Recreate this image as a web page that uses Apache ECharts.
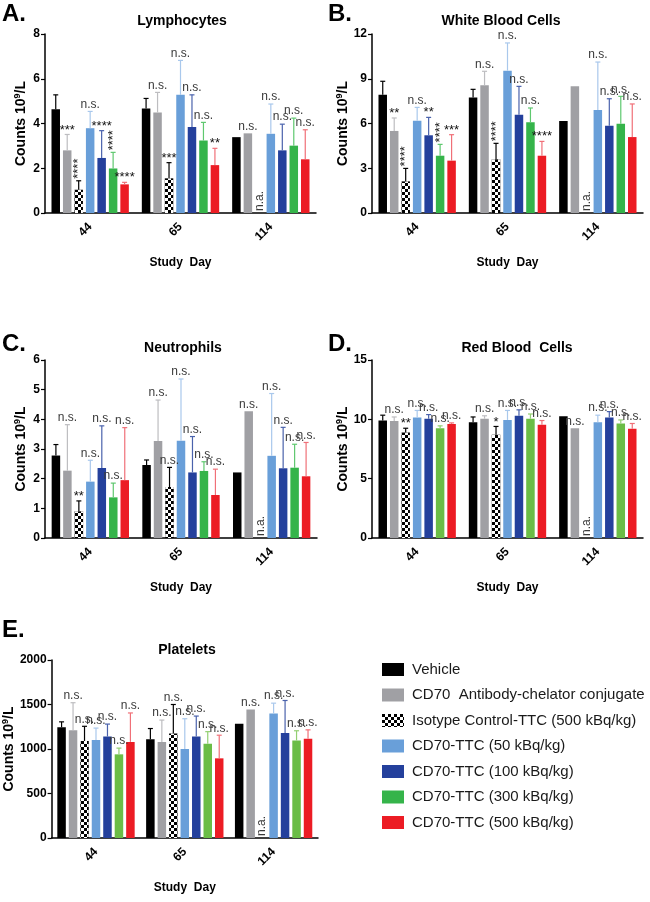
<!DOCTYPE html>
<html>
<head>
<meta charset="utf-8">
<script src="https://cdn.jsdelivr.net/npm/echarts@6/dist/echarts.min.js"></script>
<style>html,body{margin:0;padding:0;background:#fff}#c{width:650px;height:902px}</style>
</head>
<body>
<div id="c"></div>
<script>
// ---------- data ----------
const categories = ['44', '65', '114'];
const seriesNames = ['Vehicle', 'CD70  Antibody-chelator conjugate', 'Isotype Control-TTC (500 kBq/kg)',
  'CD70-TTC (50 kBq/kg)', 'CD70-TTC (100 kBq/kg)', 'CD70-TTC (300 kBq/kg)', 'CD70-TTC (500 kBq/kg)'];

// rows = series, columns = study day 44, 65, 114 ; null = not available
const lymphMean = [[4.64,4.67,3.39],[2.80,4.49,3.56],[1.04,1.55,null],[3.79,5.28,3.54],[2.46,3.84,2.80],[1.99,3.24,3.01],[1.28,2.14,2.40]];
const lymphUpper = [[5.28,5.12,null],[3.51,5.39,null],[1.44,2.25,null],[4.54,6.82,4.87],[3.68,5.28,3.97],[2.71,4.05,4.24],[1.37,2.89,3.72]];
const lymphSig = [['','',''],['***','n.s.','n.s.'],['****','***','n.a.'],['n.s.','n.s.','n.s.'],['****','n.s.','n.s.'],['****','n.s.','n.s.'],['****','**','n.s.']];
const lymphVertical = [[2,0],[5,0]];

const wbcMean = [[7.93,7.75,6.17],[5.50,8.56,8.49],[2.12,3.60,null],[6.19,9.54,6.90],[5.21,6.59,5.85],[3.84,6.08,5.99],[3.51,3.84,5.09]];
const wbcUpper = [[8.83,8.29,null],[6.37,9.50,null],[2.99,4.67,null],[7.08,11.40,10.12],[6.41,8.49,7.66],[4.60,7.04,7.82],[5.25,4.80,7.31]];
const wbcSig = [['','',''],['**','n.s.',''],['****','****','n.a.'],['n.s.','n.s.','n.s.'],['**','n.s.','n.s.'],['****','n.s.','n.s.'],['***','****','n.s.']];
const wbcVertical = [[2,0],[5,0],[2,1]];

const neutMean = [[2.78,2.46,2.21],[2.27,3.27,4.27],[0.90,1.72,null],[1.90,3.28,2.77],[2.36,2.21,2.35],[1.37,2.26,2.37],[1.95,1.45,2.08]];
const neutUpper = [[3.15,2.63,null],[3.82,4.65,null],[1.25,2.38,null],[2.62,5.36,4.87],[3.78,3.42,3.73],[1.85,2.57,3.16],[3.72,2.32,3.22]];
const neutSig = [['','',''],['n.s.','n.s.','n.s.'],['**','n.s.','n.a.'],['n.s.','n.s.','n.s.'],['n.s.','n.s.','n.s.'],['n.s.','n.s.','n.s.'],['n.s.','n.s.','n.s.']];
const neutVertical = [];

const rbcMean = [[9.90,9.75,10.25],[9.85,10.05,9.25],[8.90,8.70,null],[10.15,9.95,9.75],[10.05,10.30,10.15],[9.25,10.05,9.65],[9.60,9.55,9.20]];
const rbcUpper = [[10.35,10.20,null],[10.20,10.30,null],[9.25,9.40,null],[10.75,10.75,10.35],[10.40,10.80,10.65],[9.45,10.45,9.95],[9.70,9.90,9.65]];
const rbcSig = [['','',''],['n.s.','n.s.','n.s.'],['**','*','n.a.'],['n.s.','n.s.','n.s.'],['n.s.','n.s.','n.s.'],['n.s.','n.s.','n.s.'],['n.s.','n.s.','n.s.']];
const rbcVertical = [];

const pltMean = [[1245,1110,1285],[1210,1080,1445],[1090,1175,null],[1100,1000,1400],[1140,1140,1180],[940,1060,1095],[1080,895,1115]];
const pltUpper = [[1305,1230,null],[1520,1325,null],[1255,1500,null],[1235,1340,1515],[1280,1370,1545],[1010,1195,1205],[1405,1155,1215]];
const pltSig = [['','',''],['n.s.','n.s.','n.s.'],['n.s.','n.s.','n.a.'],['n.s.','n.s.','n.s.'],['n.s.','n.s.','n.s.'],['n.s.','n.s.','n.s.'],['n.s.','n.s.','n.s.']];
const pltVertical = [];

// ---------- styling ----------
const FONT = "'Liberation Sans', Arial, Helvetica, sans-serif";
const greenDark = '#35b44a', greenLight = '#6bbd46';
function barColors(green){ return ['#000000','#a0a0a4','#000000','#699fd9','#24409c',green,'#ec1c24']; }
function errColors(green){ return ['#000000','#bdbdc0','#000000','#a9c8ec','#4a62ac', green === greenDark ? '#5fc86f' : '#93cf72','#f07078']; }

const BARW = 8.5, GAP = 0.35;

const panels = [
  {letter:'A.', title:'Lymphocytes', mean:lymphMean, upper:lymphUpper, sig:lymphSig, vert:lymphVertical,
   max:8, interval:2, grid:{left:45, top:34, width:271, height:179}, nameGap:16,
   letterPos:[2,14], titlePos:[182,21], green:greenDark},
  {letter:'B.', title:'White Blood Cells', mean:wbcMean, upper:wbcUpper, sig:wbcSig, vert:wbcVertical,
   max:12, interval:3, grid:{left:372, top:34, width:271, height:179}, nameGap:16,
   letterPos:[328,14], titlePos:[501,21], green:greenDark},
  {letter:'C.', title:'Neutrophils', mean:neutMean, upper:neutUpper, sig:neutSig, vert:neutVertical,
   max:6, interval:1, grid:{left:45, top:360, width:272, height:178}, nameGap:16,
   letterPos:[2,344], titlePos:[183,348], green:greenDark},
  {letter:'D.', title:'Red Blood  Cells', mean:rbcMean, upper:rbcUpper, sig:rbcSig, vert:rbcVertical,
   max:15, interval:5, grid:{left:372, top:360, width:271, height:178}, nameGap:16,
   letterPos:[328,344], titlePos:[517,348], green:greenLight},
  {letter:'E.', title:'Platelets', mean:pltMean, upper:pltUpper, sig:pltSig, vert:pltVertical,
   max:2000, interval:500, grid:{left:48, top:660, width:270, height:178}, nameGap:25,
   letterPos:[2,630], titlePos:[187,650], green:greenLight}
];

const checkerDecal = {
  symbol: 'rect', symbolSize: 1, color: '#ffffff',
  dashArrayX: [[3, 3], [0, 3, 3, 0]], dashArrayY: [3, 0]
};

const option = {
  animation: false,
  backgroundColor: '#ffffff',
  textStyle: {fontFamily: FONT},
  grid: [], xAxis: [], yAxis: [], series: [], graphic: [],
  legend: {
    data: seriesNames, orient: 'vertical', left: 377, top: 657,
    itemWidth: 22, itemHeight: 13, itemGap: 10.5, icon: 'rect',
    selectedMode: false,
    textStyle: {fontSize: 15, color: '#1a1a1a', fontFamily: FONT, padding: [0, 0, 0, 3]}
  }
};

panels.forEach((p, pi) => {
  option.grid.push(p.grid);
  option.xAxis.push({
    type: 'category', gridIndex: pi, data: categories,
    name: 'Study  Day', nameLocation: 'middle', nameGap: 44,
    nameTextStyle: {fontSize: 12, fontWeight: 'bold', color: '#000', fontFamily: FONT},
    axisLine: {lineStyle: {color: '#000', width: 1.5}},
    axisTick: {alignWithLabel: true, length: 4, lineStyle: {color: '#000', width: 1.2}},
    axisLabel: {rotate: 45, margin: 12, fontSize: 12, fontWeight: 'bold', color: '#000', fontFamily: FONT},
    splitLine: {show: false}
  });
  option.yAxis.push({
    type: 'value', gridIndex: pi, min: 0, max: p.max, interval: p.interval,
    name: 'Counts 10{s|9}/L', nameLocation: 'middle', nameGap: p.nameGap,
    nameTextStyle: {fontSize: 14, fontWeight: 'bold', color: '#000', fontFamily: FONT,
      rich: {s: {fontSize: 9, fontWeight: 'bold', color: '#000', fontFamily: FONT, padding: [0, 0, 7, 0]}}},
    axisLine: {show: true, lineStyle: {color: '#000', width: 1.5}},
    axisTick: {show: true, length: 4, lineStyle: {color: '#000', width: 1.2}},
    axisLabel: {fontSize: 12, fontWeight: 'bold', color: '#000', margin: 5, fontFamily: FONT,
      formatter: v => String(v)},
    splitLine: {show: false}
  });
  const colors = barColors(p.green);
  const ecol = errColors(p.green);
  seriesNames.forEach((nm, si) => {
    const s = {
      type: 'bar', name: nm, xAxisIndex: pi, yAxisIndex: pi,
      data: p.mean[si].map(v => v === null ? '-' : v),
      barWidth: BARW, barGap: (GAP * 100) + '%',
      itemStyle: {color: colors[si]},
      emphasis: {disabled: true}
    };
    if (si === 2) s.itemStyle.decal = checkerDecal;
    option.series.push(s);
  });
  // error bars + significance labels
  const items = [];
  const isVert = (s, c) => p.vert.some(v => v[0] === s && v[1] === c);
  for (let s = 0; s < 7; s++) {
    for (let c = 0; c < 3; c++) {
      const m = p.mean[s][c], u = p.upper[s][c], lab = p.sig[s][c];
      if (u === null && !lab) continue;
      items.push({s, c, mean: m === null ? 0 : m, upper: u, label: lab,
        vertical: lab === 'n.a.' || isVert(s, c)});
    }
  }
  option.series.push({
    type: 'custom', xAxisIndex: pi, yAxisIndex: pi, z: 5, silent: true,
    data: items.map(it => [it.c, it.upper === null ? it.mean : it.upper]),
    encode: {x: 0, y: 1},
    renderItem: function (params, api) {
      const it = items[params.dataIndex];
      const step = BARW * (1 + GAP);
      const base = api.coord([it.c, it.mean]);
      const x = base[0] + (it.s - 3) * step;
      const children = [];
      let yTop = base[1];
      if (it.upper !== null) {
        const t = api.coord([it.c, it.upper]);
        yTop = t[1];
        children.push({type: 'line', shape: {x1: x, y1: base[1], x2: x, y2: yTop},
          style: {stroke: ecol[it.s], lineWidth: 1.2}});
        children.push({type: 'line', shape: {x1: x - 2.5, y1: yTop, x2: x + 2.5, y2: yTop},
          style: {stroke: ecol[it.s], lineWidth: 1.2}});
      }
      if (it.label) {
        const star = it.label.indexOf('*') >= 0;
        const st = {
          text: it.label, fill: star ? '#111' : '#3a3a3a',
          fontSize: star ? 13 : 12, fontWeight: 'normal', fontFamily: FONT
        };
        if (it.vertical) {
          children.push({type: 'text', x: x, y: yTop - 2, rotation: Math.PI / 2,
            style: Object.assign(st, {align: 'left', verticalAlign: 'middle'})});
        } else {
          children.push({type: 'text', x: x, y: star ? yTop + 2 : yTop - 1,
            style: Object.assign(st, {align: 'center', verticalAlign: 'bottom'})});
        }
      }
      return {type: 'group', children};
    }
  });
  option.graphic.push({type: 'text', x: p.letterPos[0], y: p.letterPos[1],
    style: {text: p.letter, fontSize: 24, fontWeight: 'bold', fill: '#000', fontFamily: FONT, verticalAlign: 'middle'}});
  option.graphic.push({type: 'text', x: p.titlePos[0], y: p.titlePos[1],
    style: {text: p.title, fontSize: 14, fontWeight: 'bold', fill: '#000', fontFamily: FONT, align: 'center', verticalAlign: 'middle'}});
});

const chart = echarts.init(document.getElementById('c'));
chart.setOption(option);
</script>
</body>
</html>
